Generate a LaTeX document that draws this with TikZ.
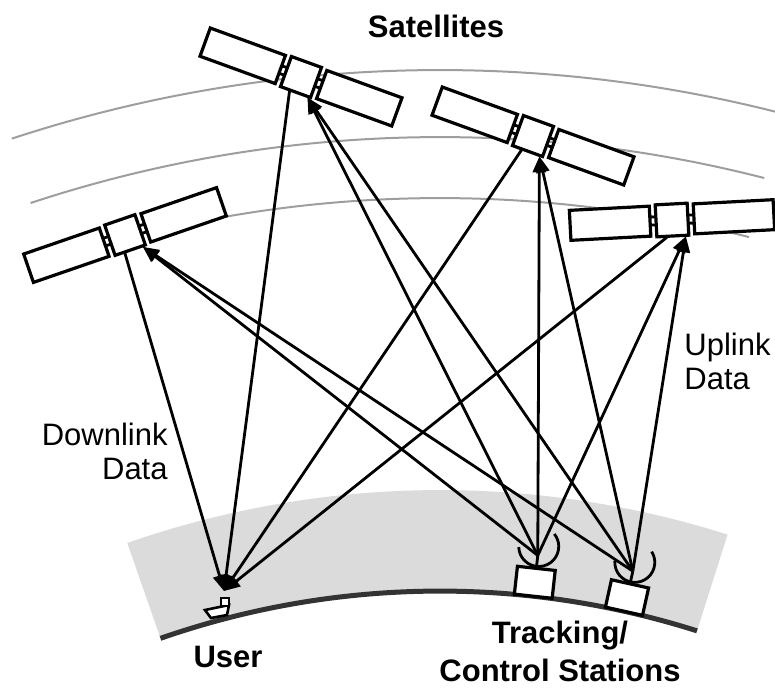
\documentclass[tikz,border=0pt]{standalone}
\usepackage{fontspec}
\setmainfont{Liberation Sans}
\usetikzlibrary{calc,arrows.meta}

\begin{document}
\begin{tikzpicture}[x=0.5pt,y=-0.5pt]
      \tikzstyle{orbit} = [draw=black!38, line width=1pt]
      \tikzstyle{part} = [draw, fill=white, line width=1.6pt]
      \tikzstyle{link} = [line width=1.4pt, -{Triangle[length=8pt,width=6.5pt]}]
      \tikzstyle{txt} = [inner sep=0pt, font=\fontsize{15.5}{17}\selectfont]
      \tikzstyle{title} = [txt, font=\fontsize{15.5}{19}\selectfont\bfseries, align=center]
      \useasboundingbox (0,0) rectangle (775,693);
      \coordinate (E) at (440,1441);
      % ground band and earth surface
      \fill[black!14] ($(E)+(-109.2:850)$) arc[start angle=-109.2, end angle=-72.4, radius=850]
        -- ($(E)+(-72.4:951)$) arc[start angle=-72.4, end angle=-109.2, radius=951] -- cycle;
      \draw[line width=2.5pt, black!80] ($(E)+(-109.2:850)$) arc[start angle=-109.2, end angle=-72.4, radius=850];
      % orbits
      \draw[orbit] ($(E)+(-108.2:1371)$) arc[start angle=-108.2, end angle=-75.8, radius=1371];
      \draw[orbit] ($(E)+(-108.3:1304)$) arc[start angle=-108.3, end angle=-75.6, radius=1304];
      \draw[orbit] ($(E)+(-100.5:1243)$) arc[start angle=-100.5, end angle=-75.6, radius=1243];
      % satellites
      \foreach \n/\x/\y/\r in {s1/301/77/-20, s2/533/136/-20, s3/125/235/19, s4/672/220/3}{
        \begin{scope}[shift={(\x,\y)}, rotate=\r]
          \draw[part] (-102,-15) rectangle (-22,15);
          \draw[part] (22,-15) rectangle (102,15);
          \draw[part] (-16,-16) rectangle (16,16);
          \draw[line width=1.4pt] (-22,-4) -- (-16,-4) (-22,4) -- (-16,4) (16,-4) -- (22,-4) (16,4) -- (22,4);
          \coordinate (\n-dn) at (-6,17);
          \coordinate (\n-up) at (13,17);
        \end{scope}
      }
      % ground stations
      \foreach \s/\a in {st1/-83.7, st2/-77.5}{
        \begin{scope}[shift={($(E)+(\a:850)$)}, rotate={-(\a+90)}]
          \draw[part] (-19,-28) rectangle (19,0);
          \draw[line width=1.4pt] (0,-28) -- (0,-41);
          \draw[line width=1.4pt] (0,-50) ++(-188:20) arc[start angle=-188, end angle=-405, radius=20];
          \coordinate (\s) at (0,-41);
        \end{scope}
      }
      % user receiver
      \coordinate (user) at (224,591);
      \draw[part, line width=1.3pt] (205,610) -- (229,605) -- (227,615) -- (211,618) -- cycle;
      \draw[part, line width=1.3pt] (221,598) rectangle (229,606);
      % links
      \foreach \n in {s1,s2,s3,s4}{
        \draw[link] (\n-dn) -- (user);
        \draw[link] (st1) -- (\n-up);
        \draw[link] (st2) -- (\n-up);
      }
      % labels
      \node[title, anchor=base] (sats) at (436,37) {Satellites};
      \node[title, anchor=base] (usr) at (228,667) {User};
      \node[title, anchor=north] (stations) at (560,621) {Tracking/\\Control Stations};
      \node[txt, align=right, anchor=north east] (down) at (168,423) {Downlink\\Data};
      \node[txt, align=left, anchor=north west] (up) at (684,333) {Uplink\\Data};
\end{tikzpicture}
\end{document}
